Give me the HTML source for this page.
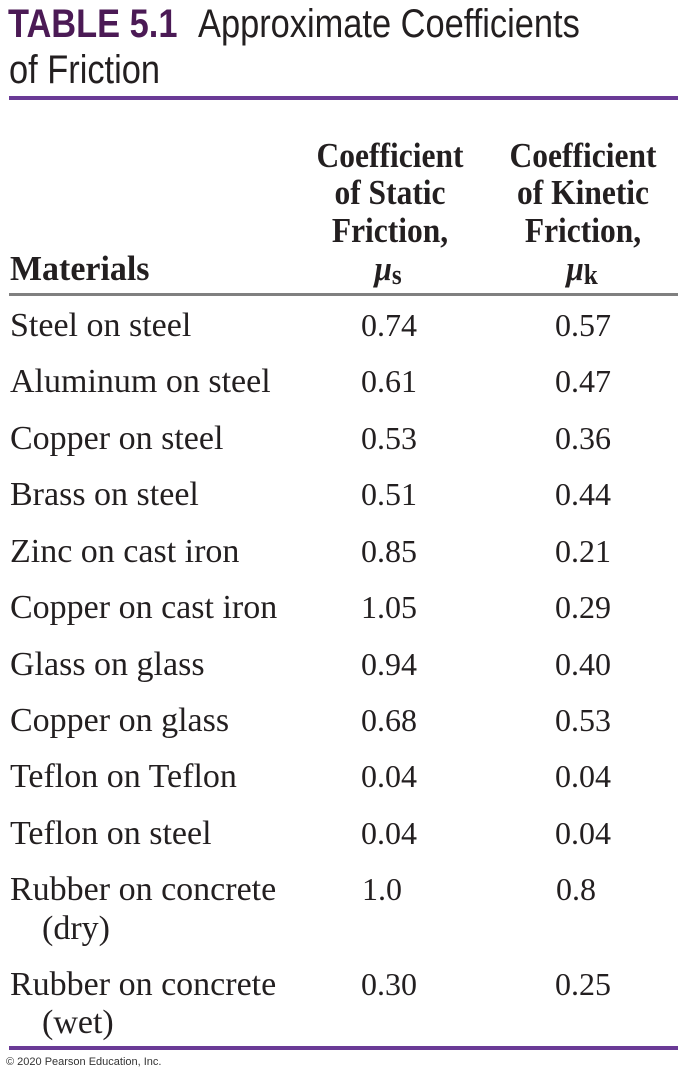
<!DOCTYPE html>
<html><head><meta charset="utf-8"><style>
body{margin:0;width:686px;height:1076px;background:#fff;position:relative;overflow:hidden;font-family:"Liberation Serif",serif;color:#231f20}
.a{position:absolute;white-space:nowrap;line-height:1}
.t{font-family:"Liberation Sans",sans-serif;font-size:40px;top:4px;transform:scaleX(0.86);transform-origin:0 0}
.m{font-size:34px;left:10px}
.c{font-size:32px;transform:translateX(-50%)}
.h{font-size:35px;font-weight:bold;transform:translateX(-50%) scaleX(0.9);}
.ln{position:absolute;left:9px;width:669px}
</style></head><body>
<div class="a t" style="left:8px;color:#4b1a55;font-weight:bold">TABLE 5.1</div>
<div class="a t" style="left:198px">Approximate Coefficients</div>
<div class="a t" style="left:9px;top:50px">of Friction</div>
<div class="ln" style="top:96px;height:4px;background:#6a3a96"></div>

<div class="a h" style="left:390px;top:138px">Coefficient</div>
<div class="a h" style="left:390px;top:175px">of Static</div>
<div class="a h" style="left:390px;top:213px">Friction,</div>
<div class="a h" style="left:583px;top:138px">Coefficient</div>
<div class="a h" style="left:583px;top:175px">of Kinetic</div>
<div class="a h" style="left:583px;top:213px">Friction,</div>
<div class="a h" style="left:10px;top:251px;transform:scaleX(0.97);transform-origin:0 0">Materials</div>
<div class="a h" style="left:388px;top:251px"><i>μ</i><span style="font-size:28px;position:relative;top:4px">s</span></div>
<div class="a h" style="left:582px;top:251px"><i>μ</i><span style="font-size:28px;position:relative;top:4px">k</span></div>
<div class="ln" style="top:293px;height:3px;background:#808080"></div>

<div class="a m" style="top:309px">Steel on steel</div><div class="a c" style="left:389px;top:309px">0.74</div><div class="a c" style="left:583px;top:309px">0.57</div>
<div class="a m" style="top:365px">Aluminum on steel</div><div class="a c" style="left:389px;top:365px">0.61</div><div class="a c" style="left:583px;top:365px">0.47</div>
<div class="a m" style="top:422px">Copper on steel</div><div class="a c" style="left:389px;top:422px">0.53</div><div class="a c" style="left:583px;top:422px">0.36</div>
<div class="a m" style="top:478px">Brass on steel</div><div class="a c" style="left:389px;top:478px">0.51</div><div class="a c" style="left:583px;top:478px">0.44</div>
<div class="a m" style="top:535px">Zinc on cast iron</div><div class="a c" style="left:389px;top:535px">0.85</div><div class="a c" style="left:583px;top:535px">0.21</div>
<div class="a m" style="top:591px">Copper on cast iron</div><div class="a c" style="left:389px;top:591px">1.05</div><div class="a c" style="left:583px;top:591px">0.29</div>
<div class="a m" style="top:648px">Glass on glass</div><div class="a c" style="left:389px;top:648px">0.94</div><div class="a c" style="left:583px;top:648px">0.40</div>
<div class="a m" style="top:704px">Copper on glass</div><div class="a c" style="left:389px;top:704px">0.68</div><div class="a c" style="left:583px;top:704px">0.53</div>
<div class="a m" style="top:760px">Teflon on Teflon</div><div class="a c" style="left:389px;top:760px">0.04</div><div class="a c" style="left:583px;top:760px">0.04</div>
<div class="a m" style="top:817px">Teflon on steel</div><div class="a c" style="left:389px;top:817px">0.04</div><div class="a c" style="left:583px;top:817px">0.04</div>
<div class="a m" style="top:873px">Rubber on concrete</div><div class="a" style="font-size:32px;left:362px;top:873px">1.0</div><div class="a" style="font-size:32px;left:556px;top:873px">0.8</div>
<div class="a m" style="top:912px;left:42px">(dry)</div>
<div class="a m" style="top:968px">Rubber on concrete</div><div class="a c" style="left:389px;top:968px">0.30</div><div class="a c" style="left:583px;top:968px">0.25</div>
<div class="a m" style="top:1006px;left:42px">(wet)</div>
<div class="ln" style="top:1046px;height:4px;background:#6a3a96"></div>
<div class="a" style="font-family:'Liberation Sans',sans-serif;font-size:11px;left:6px;top:1057px;color:#333">© 2020 Pearson Education, Inc.</div>
</body></html>
